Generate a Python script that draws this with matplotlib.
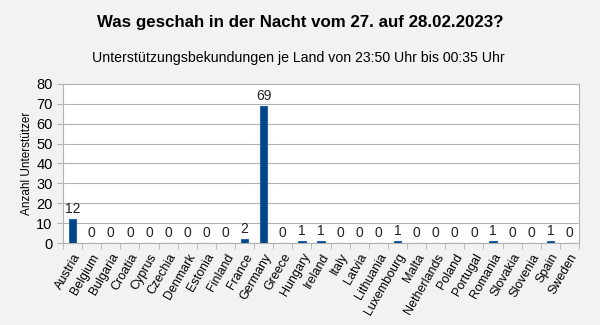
import numpy as np
import matplotlib.pyplot as plt

countries = ["Austria", "Belgium", "Bulgaria", "Croatia", "Cyprus", "Czechia", "Denmark",
             "Estonia", "Finland", "France", "Germany", "Greece", "Hungary", "Ireland",
             "Italy", "Latvia", "Lithuania", "Luxembourg", "Malta", "Netherlands", "Poland",
             "Portugal", "Romania", "Slovakia", "Slovenia", "Spain", "Sweden"]
supporters = [12, 0, 0, 0, 0, 0, 0, 0, 0, 2, 69, 0, 1, 1, 0, 0, 0, 1, 0, 0, 0, 0, 1, 0, 0, 1, 0]
yticks = [0, 10, 20, 30, 40, 50, 60, 70, 80]

plt.rcParams['font.family'] = ['Liberation Sans', 'DejaVu Sans']

fig = plt.figure(figsize=(6, 3.25), dpi=100, facecolor='#f2f2f2')
ax = fig.add_axes([0.105, 0.252, 0.86, 0.49])
ax.set_facecolor('white')

x = np.arange(len(countries))
bars = ax.bar(x, supporters, width=0.4, color='#004586', edgecolor='#2a65a8', linewidth=0.8, zorder=3)
for xi, v in zip(x, supporters):
    ax.text(xi, v + 1.5, str(v), ha='center', va='bottom', fontsize=10, color='#222222')

ax.set_xlim(-0.5, len(countries) - 0.5)
ax.set_ylim(0, 80)
ax.set_yticks(yticks)
ax.yaxis.grid(True, color='#b3b3b3', linewidth=0.8, zorder=0)
ax.set_xticks(x)
ax.set_xticklabels(countries, rotation=60, ha='right', rotation_mode='anchor', fontsize=9)
ax.set_xticks(np.arange(-0.5, len(countries), 1), minor=True)
ax.tick_params(axis='x', which='major', length=0, pad=6)
ax.tick_params(axis='x', which='minor', length=4, color='#b3b3b3')
ax.tick_params(axis='y', length=4, color='#b3b3b3', labelsize=10.5)
for s in ax.spines.values():
    s.set_color('#b3b3b3')
    s.set_linewidth(0.8)
ax.set_ylabel('Anzahl Unterstützer', fontsize=8.5, labelpad=2)

fig.text(0.5, 0.932, 'Was geschah in der Nacht vom 27. auf 28.02.2023?', ha='center', va='center',
         fontsize=12.2, fontweight='bold')
fig.text(0.497, 0.822, 'Unterstützungsbekundungen je Land von 23:50 Uhr bis 00:35 Uhr', ha='center',
         va='center', fontsize=10.2)

fig.savefig('out.png', dpi=100, facecolor=fig.get_facecolor())
